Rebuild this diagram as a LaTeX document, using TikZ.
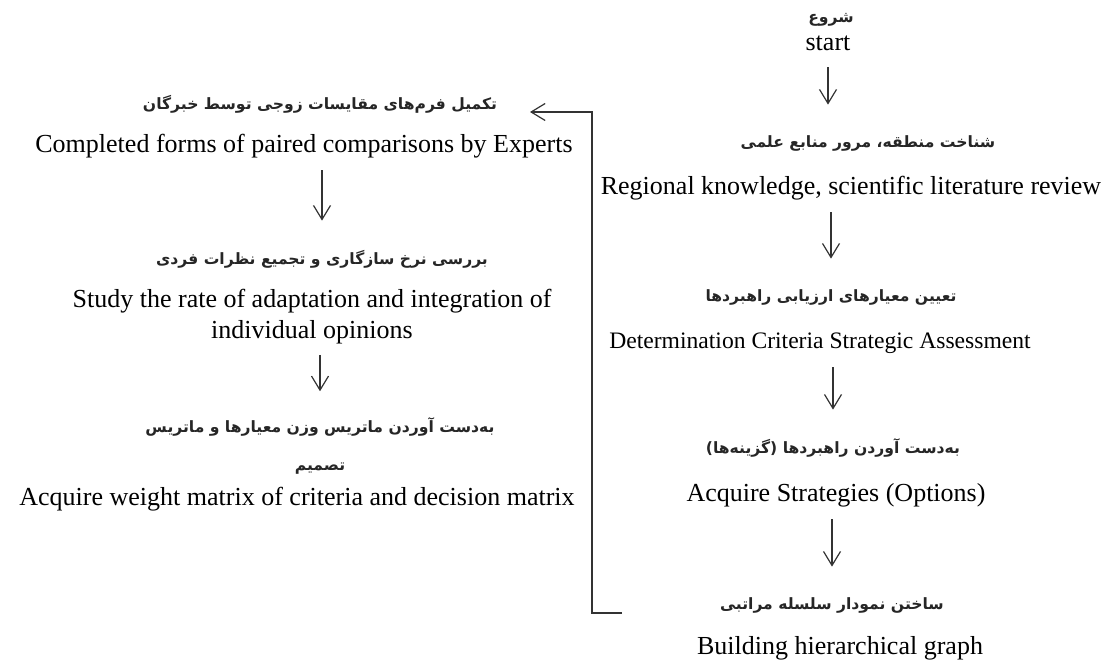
\documentclass[tikz,border=0pt]{standalone}
\usepackage{fontspec}
\setmainfont{Liberation Serif}
\newfontfamily\farsi[Script=Arabic]{DejaVu Sans}
\TeXXeTstate=1
\usetikzlibrary{arrows.meta,positioning}

\begin{document}
\begin{tikzpicture}[x=0.5pt,y=-0.5pt]
\tikzset{fa/.style={font=\farsi\bfseries\fontsize{7.8}{19}\selectfont, text=black!85, align=center,
inner sep=0pt, minimum height=12pt},
en/.style={font=\fontsize{13}{15.5}\selectfont, align=center, inner sep=0pt, minimum height=14pt},
flow/.style={draw=black!80, line width=0.6pt, ->, >={Straight Barb[length=7pt,width=8.5pt]}}}
\useasboundingbox (0,0) rectangle (1108,662);

% right column
\node[fa] (start-fa) at (831,20) {\beginR شروع\endR};
\node[en] (start-en) at (828,43) {start};
\node[fa] (region-fa) at (868,143) {\beginR شناخت منطقه، مرور منابع علمی\endR};
\node[en] (region-en) at (851,188) {Regional knowledge, scientific literature review};
\node[fa] (criteria-fa) at (831,297) {\beginR تعیین معیارهای ارزیابی راهبردها\endR};
\node[en, font=\fontsize{11.8}{14}\selectfont] (criteria-en) at (820,343) {Determination Criteria Strategic Assessment};
\node[fa] (strategy-fa) at (833,448) {\beginR به^^^^200cدست آوردن راهبردها (گزینه^^^^200cها)\endR};
\node[en] (strategy-en) at (836,495) {Acquire Strategies (Options)};
\node[fa] (graph-fa) at (832,605) {\beginR ساختن نمودار سلسله مراتبی\endR};
\node[en] (graph-en) at (840,648) {Building hierarchical graph};

% left column
\node[fa] (forms-fa) at (320,104) {\beginR تکمیل فرم^^^^200cهای مقایسات زوجی توسط خبرگان\endR};
\node[en] (forms-en) at (304,146) {Completed forms of paired comparisons by Experts};
\node[fa] (rate-fa) at (322,259) {\beginR بررسی نرخ سازگاری و تجمیع نظرات فردی\endR};
\node[en] (rate-en) at (312,317) {Study the rate of adaptation and integration of\\individual opinions};
\node[fa] (matrix-fa) at (320,446) {\beginR به^^^^200cدست آوردن ماتریس وزن معیارها و ماتریس\endR\\\beginR تصمیم\endR};
\node[en] (matrix-en) at (297,499) {Acquire weight matrix of criteria and decision matrix};

\coordinate (loop-in) at (622,613);
\coordinate (loop-out) at (530,112);

\path[every edge/.style={flow, shorten >=13pt, shorten <=5pt}]
(start-en) edge (start-en |- region-fa.north)
(region-en.south -| criteria-fa) edge (criteria-fa)
(criteria-en.south -| strategy-fa) edge (strategy-fa)
(strategy-en.south -| graph-fa) edge (graph-fa)
(forms-en.south -| rate-fa) edge (rate-fa)
(rate-en.south -| matrix-fa) edge (matrix-fa);

\draw[flow] (loop-in) -- ++(-30,0) |- (loop-out);
\end{tikzpicture}
\end{document}
